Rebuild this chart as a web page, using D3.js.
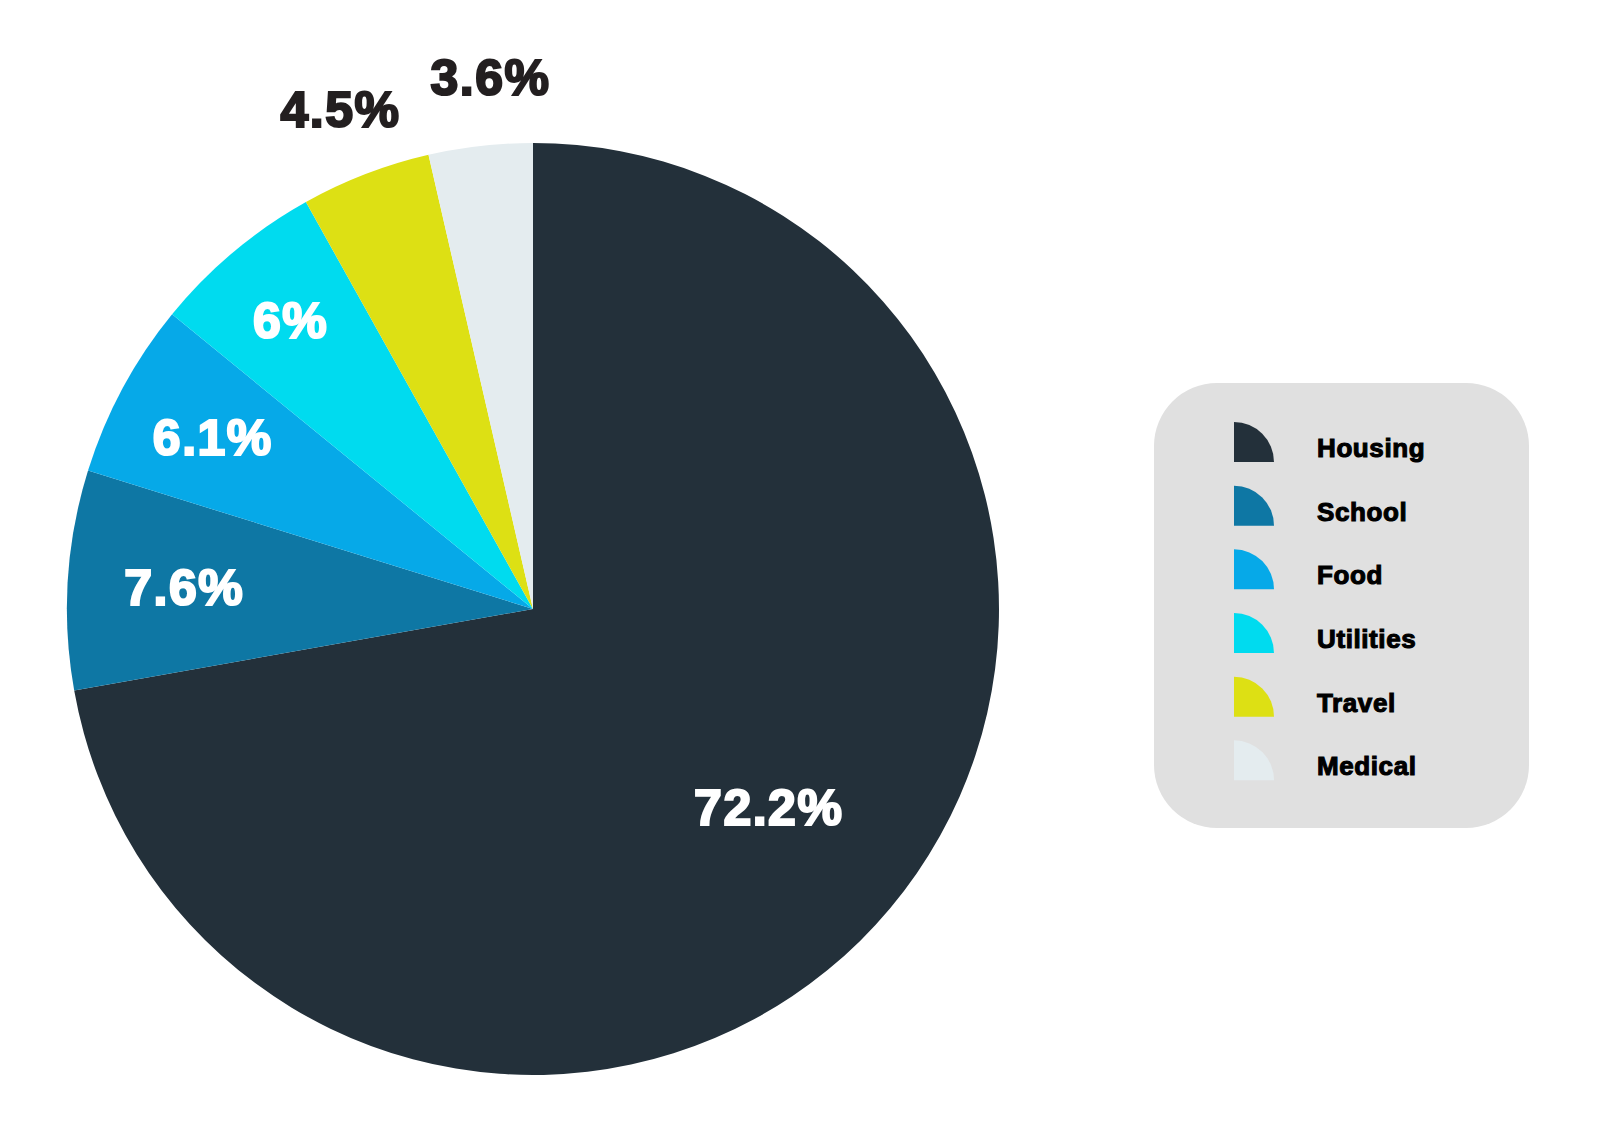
<!DOCTYPE html>
<html>
<head>
<meta charset="utf-8">
<script src="https://cdn.jsdelivr.net/npm/d3@7"></script>
<style>
  body { margin: 0; background: #fff; }
  text { font-family: "Liberation Sans", Arial, sans-serif; font-weight: bold; }
</style>
</head>
<body>
<div id="chart-container"></div>
<script>
// Data
const categories = ["Housing", "School", "Food", "Utilities", "Travel", "Medical"];
const values = [72.2, 7.6, 6.1, 6, 4.5, 3.6];
const colors = ["#23303a", "#0e77a4", "#06a9e8", "#00dbef", "#dde014", "#e4ecef"];

const width = 1600, height = 1146;
const cx = 533, cy = 609, radius = 466;

const svg = d3.select("#chart-container")
  .append("svg")
    .attr("width", width)
    .attr("height", height);

const color = d3.scaleOrdinal().domain(categories).range(colors);

const pie = d3.pie().sort(null).value(d => d.value);
const arcs = pie(categories.map((c, i) => ({ name: c, value: values[i] })));

const arc = d3.arc().innerRadius(0).outerRadius(radius);

const g = svg.append("g").attr("transform", `translate(${cx},${cy})`);

g.selectAll("path.slice")
  .data(arcs)
  .enter()
  .append("path")
    .attr("class", "slice")
    .attr("d", arc)
    .attr("fill", d => color(d.data.name));

// label radius: big slice closer in, thin slices step outward, tiny ones outside
function labelRadius(d) {
  if (d.data.value > 50) return radius * 0.66;
  if (d.data.value < 5) return radius * 1.15;
  return radius * (0.72 + 0.03 * d.index);
}

g.selectAll("text.pct")
  .data(arcs)
  .enter()
  .append("text")
    .attr("class", "pct")
    .attr("transform", d => {
      const r = labelRadius(d);
      const c = d3.arc().innerRadius(r).outerRadius(r).centroid(d);
      return `translate(${c})`;
    })
    .attr("text-anchor", "middle")
    .attr("dx", d => d.index === arcs.length - 1 ? 18 : 0)
    .attr("dy", "0.36em")
    .attr("font-size", 50)
    .attr("letter-spacing", 1.5)
    .attr("fill", d => d.data.value < 5 ? "#231f20" : "#ffffff")
    .attr("stroke", d => d.data.value < 5 ? "#231f20" : "#ffffff")
    .attr("stroke-width", 2.2)
    .text(d => d.data.value + "%");

// Legend
const legend = svg.append("g").attr("transform", "translate(1154,383)");

legend.append("rect")
  .attr("width", 375)
  .attr("height", 445)
  .attr("rx", 63)
  .attr("fill", "#e0e0e0");

const rowY = d3.scaleBand().domain(categories).range([39, 421]);
const icon = d3.arc().innerRadius(0).outerRadius(40).startAngle(0).endAngle(Math.PI / 2);

const rows = legend.selectAll("g.row")
  .data(categories)
  .enter()
  .append("g")
    .attr("class", "row")
    .attr("transform", d => `translate(0,${rowY(d)})`);

rows.append("path")
  .attr("d", icon)
  .attr("transform", "translate(80,40)")
  .attr("fill", d => color(d));

rows.append("text")
  .attr("x", 163)
  .attr("y", 35)
  .attr("font-size", 26)
  .attr("letter-spacing", 0.6)
  .attr("fill", "#000")
  .attr("stroke", "#000")
  .attr("stroke-width", 1.1)
  .text(d => d);
</script>
</body>
</html>
